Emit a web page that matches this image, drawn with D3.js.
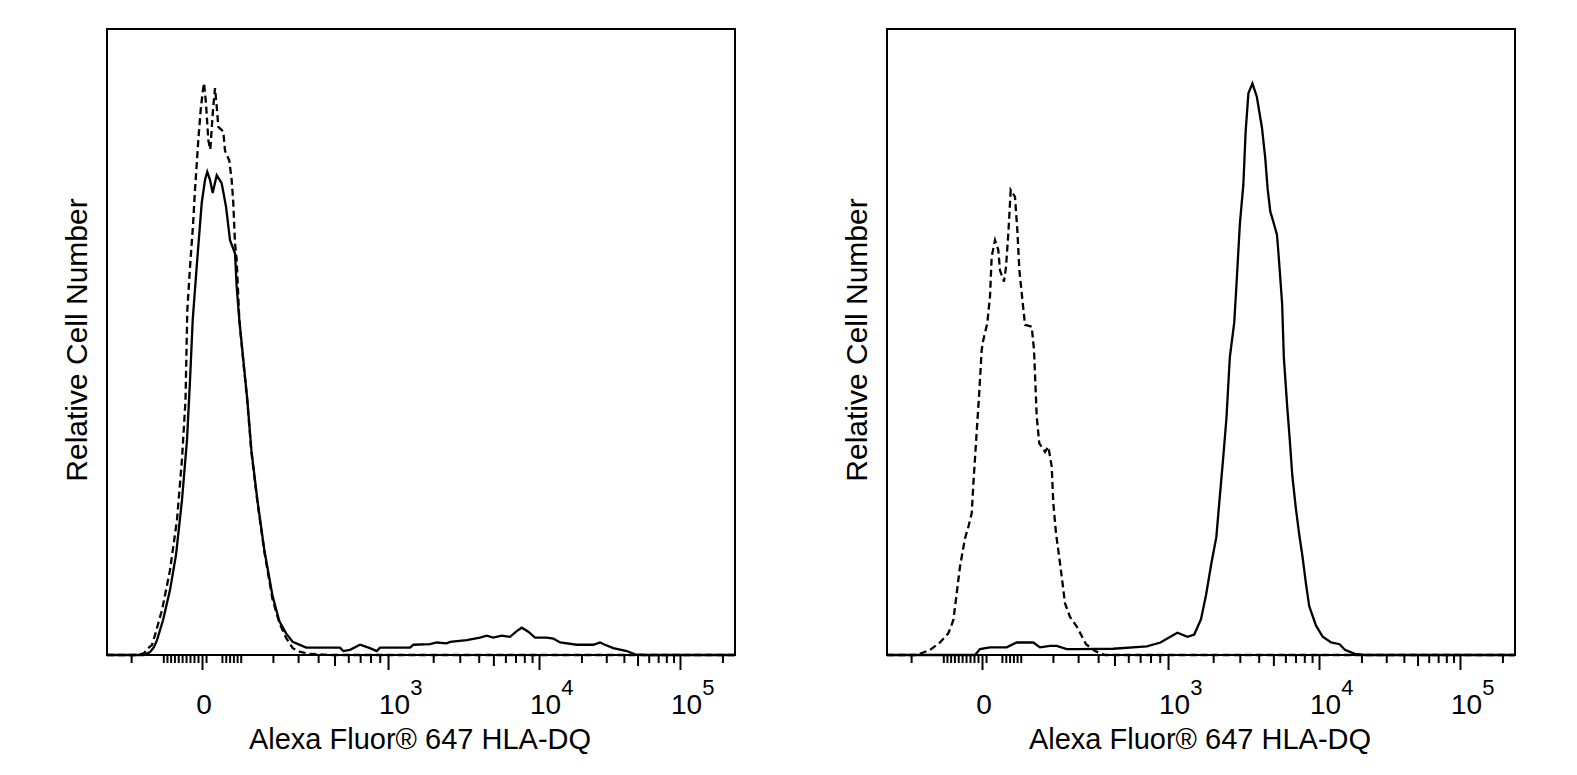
<!DOCTYPE html>
<html><head><meta charset="utf-8">
<script src="https://cdn.jsdelivr.net/npm/d3@7"></script>
<style>
body{margin:0;background:#fff}
text{font-family:"Liberation Sans",Arial,Helvetica,sans-serif;fill:#000}
</style>
</head><body>
<svg id="chart" width="1577" height="775"></svg>
<script>
// Histogram data: [display channel (0-1000 across the axis), relative cell count (mode = 100)]
const leftSolid = [[0,0],[58.9,0],[68.5,0.5],[74.8,1.4],[79.6,2.6],[89.2,6.1],[100.3,11.4],[109.9,17.6],[119.4,27.2],[127.4,37.8],[132.2,48.3],[136.5,58.9],[142.8,68.2],[150.8,79.4],[156.1,83.5],[159.7,84.9],[164,83.5],[168.3,81.2],[174.7,84.3],[182.6,82.9],[189.5,78.8],[195.9,72.9],[203.8,70.6],[206.5,64.7],[210.7,58.9],[217.1,51.8],[223.5,44.8],[229.9,36.0],[239.5,27.2],[250.6,18.4],[263.4,10.5],[274.5,5.9],[285.2,3.8],[295.7,2.3],[317.1,1.3],[371.0,1.3],[376.3,0.7],[386.9,0.9],[402.9,1.8],[418.8,1.2],[429.5,0.7],[434.7,1.3],[482.5,1.3],[487.8,1.8],[514.3,1.9],[525.0,2.2],[540.9,2.05],[546.2,2.3],[572.8,2.6],[593.9,3.05],[604.6,3.4],[615.1,3.05],[628.5,3.4],[641.7,3.2],[652.4,4.2],[660.4,4.8],[670.9,4.1],[681.5,3.05],[700.2,3.05],[710.7,2.9],[721.4,2.2],[748.0,1.8],[774.4,1.8],[785.1,2.2],[793.0,1.8],[806.2,1.2],[827.6,0.7],[840.8,0.1],[856.7,0],[1000,0]];
const leftDashed = [[0,0],[49.4,0],[58.9,0.3],[65.3,1.2],[71.7,1.8],[76.4,3.5],[87.6,7.9],[100.3,14.9],[111.5,23.8],[119.4,34.4],[125.0,44.8],[127.9,60.6],[132.2,68.2],[137.0,75.6],[140.1,81.7],[142.8,86.1],[145.4,90.5],[149.2,95.8],[152.4,99.0],[154.5,100.5],[157.6,97.0],[161.3,90.5],[164.5,88.8],[168.8,95.8],[172.0,99.6],[174.7,96.4],[177.3,92.8],[185.2,92.0],[187.9,88.6],[194.7,86.9],[198.5,83.5],[201.1,79.4],[203.8,72.4],[206.5,69.4],[210.7,58.9],[217.1,51.5],[223.5,44.5],[229.9,35.7],[239.5,26.9],[250.6,18.1],[263.4,9.9],[274.5,5.6],[285.2,3.0],[295.7,1.2],[306.4,0.6],[322.3,0.2],[355,0],[1000,0]];
const rightSolid = [[0,0],[140.1,0],[148.1,1.05],[164.0,1.35],[190.6,1.35],[206.5,2.2],[233.0,2.2],[243.6,1.35],[259.6,1.6],[270.2,1.6],[286.2,1.05],[302.1,1.05],[360,1.1],[413.9,1.5],[435.5,2.2],[446.3,2.9],[462.4,3.9],[478.5,3.2],[489.3,3.6],[500.0,6.3],[508.1,10.6],[516.3,16.0],[524.4,20.7],[529.6,27.4],[535.0,34.2],[540.5,41.6],[545.9,52.3],[552.9,58.4],[556.5,65.1],[562.0,75.9],[567.4,82.6],[571.1,92.0],[575.5,98.7],[581.9,100.4],[588.9,98.1],[597.0,92.7],[602.3,87.3],[606.1,81.9],[610.4,77.9],[615.8,75.9],[621.0,73.8],[623.9,69.8],[629.2,61.7],[631.9,52.3],[637.3,43.6],[641.1,38.2],[645.4,31.5],[650.7,26.1],[656.1,21.4],[661.5,17.4],[666.9,12.7],[672.3,8.6],[683.0,5.2],[693.8,3.2],[707.2,2.2],[720.7,1.9],[729.1,0.9],[745.0,0.2],[761,0],[1000,0]];
const rightDashed = [[0,0],[44.6,0],[55.7,0.35],[68.5,0.9],[84.4,2.2],[97.6,3.8],[105.6,6.1],[111.0,10.8],[116.2,15.5],[124.2,20.5],[129.5,22.5],[134.9,24.9],[137.6,30.2],[143.0,39.5],[146.5,45.4],[150.8,53.6],[153.3,55.3],[159.7,58.3],[164.0,63.0],[166.7,70.0],[172.0,72.9],[177.2,71.2],[179.9,67.6],[186.3,65.6],[189.5,68.2],[193.2,74.1],[197.0,81.7],[203.8,80.5],[207.5,74.7],[210.8,67.6],[214.5,63.6],[219.8,58.0],[230.4,57.7],[234.1,53.6],[238.4,41.9],[242.5,37.2],[251.6,35.7],[256.9,36.6],[262.3,33.1],[264.8,26.7],[269.1,21.4],[272.8,18.4],[278.2,13.8],[283.4,9.1],[291.4,6.7],[302.1,5.0],[316.9,1.9],[331.2,0.7],[347.1,0],[1000,0]];

// Axis (biexponential display) calibration and ticks
const labelledTicks = [0, 1e3, 1e4, 1e5];
const tickLabels = ["0", "3", "4", "5"];
const midTicks = [500, 5000, 50000];
const minorTicks = [-200,-100,-90,-80,-70,-60,-50,-40,-30,-20,-10,10,50,60,70,80,90,100,200,300,400,600,700,800,900,2000,3000,4000,6000,7000,8000,9000,20000,30000,40000,60000,70000,80000,90000,200000];
const anchorValues = [0, 1e3, 1e4, 1e5];
const anchorChannels = [151.3, 447.5, 687.9, 912.4];

const xTitle = "Alexa Fluor\u00AE 647 HLA-DQ";
const yTitle = "Relative Cell Number";

const W = 628, H = 626, TOP = 29;
const panels = [
  {left: 107, solid: leftSolid, dashed: leftDashed},
  {left: 887, solid: rightSolid, dashed: rightDashed}
];

const svg = d3.select('#chart');
const biex = v => Math.asinh(v / 200);
const chOf = d3.scaleLinear().domain(anchorValues.map(biex)).range(anchorChannels);
const y = d3.scaleLinear().domain([0, 110]).range([TOP + H, TOP]);

panels.forEach(p => {
  const x = d3.scaleLinear().domain([0, 1000]).range([p.left, p.left + W]);
  const g = svg.append('g');
  const line = d3.line().x(d => x(d[0])).y(d => y(d[1]));

  g.append('path').datum(p.dashed).attr('d', line)
    .attr('fill', 'none').attr('stroke', '#000').attr('stroke-width', 2.3)
    .attr('stroke-dasharray', '7,4');
  g.append('path').datum(p.solid).attr('d', line)
    .attr('fill', 'none').attr('stroke', '#000').attr('stroke-width', 2.3);

  g.append('rect').attr('x', p.left).attr('y', TOP).attr('width', W).attr('height', H)
    .attr('fill', 'none').attr('stroke', '#000').attr('stroke-width', 2);

  const addTicks = (vals, size) => {
    const a = g.append('g').attr('transform', `translate(0,${TOP + H})`)
      .call(d3.axisBottom(x).tickValues(vals.map(v => chOf(biex(v)))).tickSize(size).tickFormat(''));
    a.select('.domain').remove();
    a.selectAll('line').attr('stroke', '#000').attr('stroke-width', 2);
  };
  addTicks(minorTicks, 8);
  addTicks(midTicks, 11);
  addTicks(labelledTicks, 15);

  labelledTicks.forEach((v, i) => {
    const px = x(chOf(biex(v)));
    if (v === 0) {
      g.append('text').attr('x', px + 2).attr('y', 714).attr('text-anchor', 'middle')
        .attr('font-size', 28).text(tickLabels[i]);
    } else {
      const t = g.append('text').attr('x', px - 9).attr('y', 714).attr('font-size', 28);
      t.append('tspan').text('10');
      t.append('tspan').attr('dy', -19).attr('font-size', 22).text(tickLabels[i]);
    }
  });

  g.append('text').attr('x', p.left + 313).attr('y', 749).attr('text-anchor', 'middle')
    .attr('font-size', 29).text(xTitle);
  g.append('text').attr('transform', `translate(${p.left - 20},${TOP + 311}) rotate(-90)`)
    .attr('text-anchor', 'middle').attr('font-size', 30).text(yTitle);
});
</script>
</body></html>
